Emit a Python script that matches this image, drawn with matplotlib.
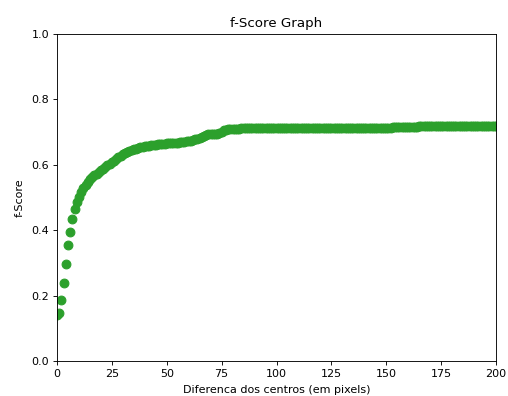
# f-Score vs. distance between centres
import matplotlib
matplotlib.use('Agg')
import matplotlib.pyplot as plt

# distance between centres (pixels)
distancias = list(range(0, 201))

# f-score, one value per pixel distance
f_inicio = [0.141, 0.146, 0.186, 0.240, 0.298, 0.354, 0.393, 0.433, 0.466, 0.486,
            0.503, 0.516, 0.528, 0.539, 0.548, 0.556, 0.562, 0.568, 0.573, 0.578,
            0.583, 0.588, 0.593, 0.598, 0.603, 0.608, 0.613, 0.618, 0.624, 0.628,
            0.632, 0.636, 0.640, 0.643, 0.645, 0.647, 0.649, 0.651, 0.653, 0.655]
f_meio = [0.657, 0.658, 0.659, 0.660, 0.661, 0.662, 0.663, 0.664, 0.665, 0.665,
          0.666, 0.666, 0.667, 0.667, 0.668, 0.668, 0.669, 0.670, 0.671, 0.672,
          0.673, 0.674, 0.676, 0.678, 0.680, 0.682, 0.685, 0.689, 0.692, 0.694,
          0.695, 0.695, 0.695, 0.695, 0.697, 0.701, 0.705, 0.707, 0.708, 0.709,
          0.710, 0.710, 0.711, 0.711, 0.712, 0.712]
f_plato = [0.713] * 55 + [0.714] * 12 + [0.715] * 8 + [0.716] * 4
f_final = [0.718] * 36

fscore = f_inicio + f_meio + f_plato + f_final

fig = plt.figure(figsize=(508 / 80, 396 / 80), dpi=80)
ax = fig.add_axes([57 / 508, 1 - 361 / 396, 439 / 508, 327 / 396])

ax.scatter(distancias, fscore, color='C2', s=62)

ax.set_xlim(0, 200)
ax.set_ylim(0, 1)
ax.set_title('f-Score Graph')
ax.set_xlabel('Diferenca dos centros (em pixels)', labelpad=5.5)
ax.set_ylabel('f-Score', labelpad=6.5)

fig.savefig('out.png', dpi=80)
